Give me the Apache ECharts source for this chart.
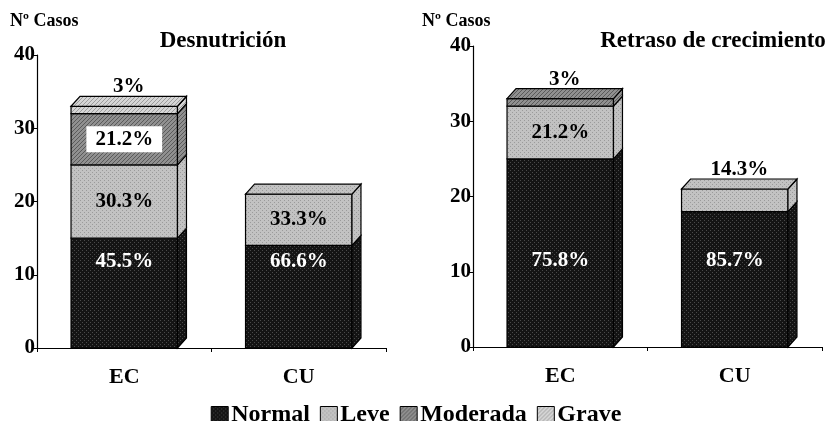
<!DOCTYPE html>
<html>
<head>
<meta charset="utf-8">
<script src="https://cdn.jsdelivr.net/npm/echarts@6/dist/echarts.min.js"></script>
<style>
  html, body { margin: 0; padding: 0; background: #fff; }
  #chart { width: 832px; height: 421px; }
</style>
</head>
<body>
<div id="chart"></div>
<script>
// categorias y valores (nº de casos)
const categories = ['EC', 'CU'];
const segNames = ['Normal', 'Leve', 'Moderada', 'Grave'];

const desnNormal = [15, 14];
const desnLeve = [10, 7];
const desnModerada = [7, 0];
const desnGrave = [1, 0];
const desnPct = [
  ['45.5%', '66.6%'],
  ['30.3%', '33.3%'],
  ['21.2%', ''],
  ['3%', '']
];

const retrNormal = [25, 18];
const retrLeve = [7, 3];
const retrModerada = [1, 0];
const retrGrave = [0, 0];
const retrPct = [
  ['75.8%', '85.7%'],
  ['21.2%', '14.3%'],
  ['3%', ''],
  ['', '']
];

const yTicks = [0, 10, 20, 30, 40];

const FONT = '"Liberation Serif", "Times New Roman", serif';

// tramas tipo "pattern" de las barras
function pat(bg, fg, kind) {
  const c = document.createElement('canvas');
  c.width = 4; c.height = 4;
  const g = c.getContext('2d');
  g.fillStyle = bg;
  g.fillRect(0, 0, 4, 4);
  g.fillStyle = fg;
  if (kind === 'dot') {
    g.fillRect(0, 0, 1, 1);
    g.fillRect(2, 2, 1, 1);
  } else {
    for (let i = 0; i < 4; i++) g.fillRect(i, 3 - i, 1, 1);
  }
  return { image: c, repeat: 'repeat' };
}
const fills = [
  pat('#141414', '#4a4a4a', 'dot'),
  pat('#c2c2c2', '#9a9a9a', 'dot'),
  pat('#909090', '#5a5a5a', 'diag'),
  pat('#d6d6d6', '#9c9c9c', 'diag')
];

const DX = 9, DY = 10;

function buildSeries(panel, segs, pcts) {
  const out = [];
  const base = categories.map(() => 0);
  // indice del segmento superior de cada barra
  const topIdx = categories.map((c, i) => {
    let t = 0;
    segs.forEach((s, k) => { if (s[i] > 0) t = k; });
    return t;
  });
  segs.forEach((vals, k) => {
    const data = categories.map((c, i) => {
      const lo = base[i];
      base[i] += vals[i];
      return [i, lo, base[i], pcts[k][i], topIdx[i] === k ? 1 : 0];
    });
    out.push({
      type: 'custom',
      name: segNames[k],
      xAxisIndex: panel,
      yAxisIndex: panel,
      itemStyle: { color: fills[k], borderColor: '#000', borderWidth: 1 },
      encode: { x: 0, y: [1, 2] },
      data: data,
      renderItem: function (params, api) {
        const lo = api.value(1), hi = api.value(2);
        if (hi <= lo) return null;
        const pLo = api.coord([api.value(0), lo]);
        const pHi = api.coord([api.value(0), hi]);
        const bw = api.size([1, 0])[0] * 0.61;
        const x0 = pLo[0] - bw / 2, x1 = pLo[0] + bw / 2;
        const y0 = pHi[1], y1 = pLo[1];
        const st = { fill: fills[k], stroke: '#000', lineWidth: 1.2 };
        const children = [
          { type: 'rect', shape: { x: x0, y: y0, width: bw, height: y1 - y0 }, style: st },
          { type: 'polygon', shape: { points: [[x1, y1], [x1 + DX, y1 - DY], [x1 + DX, y0 - DY], [x1, y0]] }, style: st }
        ];
        const isTop = api.value(4) === 1;
        if (isTop) {
          children.push({ type: 'polygon', shape: { points: [[x0, y0], [x0 + DX, y0 - DY], [x1 + DX, y0 - DY], [x1, y0]] }, style: st });
        }
        const txt = pcts[k][api.value(0)];
        if (txt) {
          const ts = {
            text: txt, font: 'bold 21px ' + FONT, fill: k === 0 ? '#fff' : '#000',
            align: 'center', verticalAlign: 'middle'
          };
          let tx = pLo[0], ty = (y0 + y1) / 2;
          if (k === 0) {
            ty = y1 - 86;
          } else if (isTop && y1 - y0 < 30) {
            tx = pLo[0] + DX / 2;
            ty = y0 - DY + 1;
            ts.verticalAlign = 'bottom';
          } else if (k === 2) {
            ts.backgroundColor = '#fff';
            ts.padding = [3, 9, 2, 9];
          }
          ts.x = tx; ts.y = ty;
          children.push({ type: 'text', z2: 50, style: ts });
        }
        return { type: 'group', children: children };
      }
    });
  });
  return out;
}

const axisTxt = { color: '#000', fontFamily: FONT, fontWeight: 'bold' };

const chart = echarts.init(document.getElementById('chart'));
chart.setOption({
  animation: false,
  backgroundColor: '#fff',
  grid: [
    { left: 37, right: 446, top: 55, bottom: 73 },
    { left: 473, right: 10, top: 46, bottom: 74 }
  ],
  xAxis: [0, 1].map(g => ({
    type: 'category', gridIndex: g, data: categories,
    axisLine: { lineStyle: { color: '#000', width: 1.2 } },
    axisTick: { show: true, length: 4, lineStyle: { color: '#000' } },
    axisLabel: Object.assign({ fontSize: 22, margin: 18 }, axisTxt)
  })),
  yAxis: [0, 1].map(g => ({
    type: 'value', gridIndex: g, min: yTicks[0], max: yTicks[yTicks.length - 1], interval: 10,
    splitLine: { show: false },
    axisLine: { show: true, lineStyle: { color: '#000', width: 1.2 } },
    axisTick: { show: true, length: 5, lineStyle: { color: '#000' } },
    axisLabel: Object.assign({ fontSize: 21, margin: 2 }, axisTxt)
  })),
  legend: {
    data: segNames,
    left: 'center',
    top: 398,
    icon: 'rect',
    itemWidth: 17,
    itemHeight: 17,
    itemGap: 10,
    selectedMode: false,
    itemStyle: { borderColor: '#000', borderWidth: 1 },
    textStyle: { color: '#000', fontFamily: FONT, fontWeight: 'bold', fontSize: 24, padding: [0, 0, 0, -2] }
  },
  graphic: [
    { type: 'text', x: 223, y: 41, style: { text: 'Desnutrición', font: 'bold 23px ' + FONT, fill: '#000', align: 'center', verticalAlign: 'middle' } },
    { type: 'text', x: 713, y: 41, style: { text: 'Retraso de crecimiento', font: 'bold 23px ' + FONT, fill: '#000', align: 'center', verticalAlign: 'middle' } },
    { type: 'text', x: 10, y: 21, style: { text: 'Nº Casos', font: 'bold 18px ' + FONT, fill: '#000', align: 'left', verticalAlign: 'middle' } },
    { type: 'text', x: 422, y: 21, style: { text: 'Nº Casos', font: 'bold 18px ' + FONT, fill: '#000', align: 'left', verticalAlign: 'middle' } }
  ],
  series: buildSeries(0, [desnNormal, desnLeve, desnModerada, desnGrave], desnPct)
    .concat(buildSeries(1, [retrNormal, retrLeve, retrModerada, retrGrave], retrPct))
});
</script>
</body>
</html>
